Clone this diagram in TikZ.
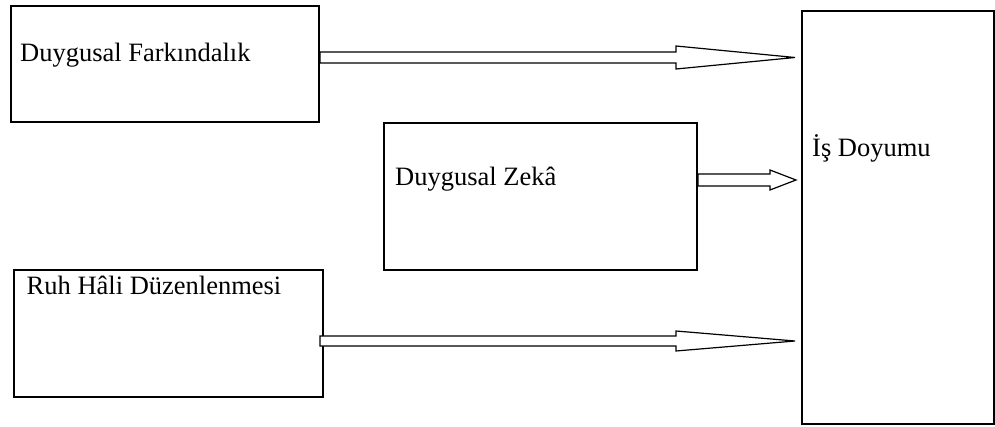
\documentclass[tikz,border=0pt]{standalone}
\usepackage{fontspec}
\setmainfont{Liberation Serif}
\begin{document}
\begin{tikzpicture}[x=1pt,y=-1pt,
  box/.style={draw, line width=2pt, inner sep=0pt, fill=none},
  lbl/.style={anchor=base west, inner sep=0pt, font=\fontsize{26.5}{30}\selectfont},
  fatarrow/.style={draw, line width=1.2pt, fill=white, line join=miter}]
\useasboundingbox (0,0) rectangle (995,427);
% boxes
\node[box, minimum width=308pt, minimum height=116pt] (fa) at (165,64) {};
\node[box, minimum width=313pt, minimum height=147pt] (dz) at (540.5,196.5) {};
\node[box, minimum width=309pt, minimum height=127pt] (rh) at (168.5,333.5) {};
\node[box, minimum width=192pt, minimum height=413pt] (is) at (898,217.5) {};
% labels
\node[lbl] (tfa) at (20,61.7) {Duygusal Farkındalık};
\node[lbl] (tdz) at (395,186) {Duygusal Zekâ};
\node[lbl] (trh) at (26.5,294.3) {Ruh Hâli Düzenlenmesi};
\node[lbl] (tis) at (812,157) {İş Doyumu};
% arrows
\draw[fatarrow] (fa.east |- 0,52) -- (676,52) -- (676,46) -- ([xshift=-6pt]is.west |- 0,57.5)
  -- (676,69) -- (676,63) -- (fa.east |- 0,63) -- cycle;
\draw[fatarrow] (dz.east |- 0,174) -- (770,174) -- (770,170) -- ([xshift=-5pt]is.west |- 0,180)
  -- (770,190) -- (770,186) -- (dz.east |- 0,186) -- cycle;
\draw[fatarrow] ([xshift=-4pt]rh.east |- 0,336) -- (676,336) -- (676,331) -- ([xshift=-6pt]is.west |- 0,341)
  -- (676,351) -- (676,346) -- ([xshift=-4pt]rh.east |- 0,346) -- cycle;
\end{tikzpicture}
\end{document}
